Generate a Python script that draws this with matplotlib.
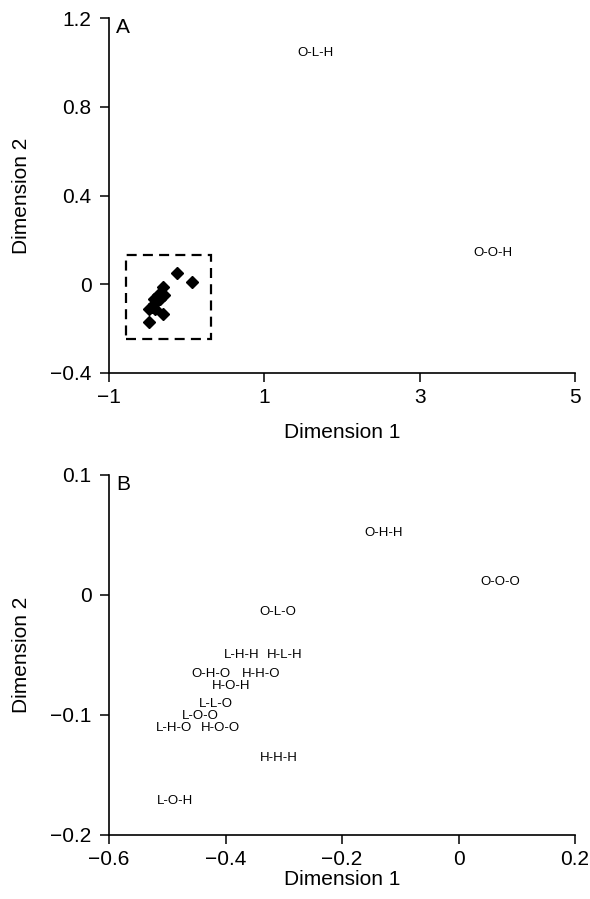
import matplotlib
matplotlib.use("Agg")
import matplotlib.pyplot as plt
from matplotlib.patches import Rectangle

plt.rcParams["font.family"] = ["Liberation Sans", "DejaVu Sans"]

# panel A: the two outlying profiles, shown by name
outer_names = ["O-L-H", "O-O-H"]
outer_dim1 = [1.66, 3.94]
outer_dim2 = [1.04, 0.139]

# panel B: the remaining profiles (also the diamonds in panel A)
names = ["O-H-H", "O-O-O", "O-L-O", "L-H-H", "H-L-H", "O-H-O", "H-H-O",
         "H-O-H", "L-L-O", "L-O-O", "L-H-O", "H-O-O", "H-H-H", "L-O-H"]
dim1 = [-0.128, 0.071, -0.310, -0.372, -0.298, -0.425, -0.339,
        -0.391, -0.416, -0.444, -0.488, -0.409, -0.308, -0.486]
dim2 = [0.052, 0.011, -0.014, -0.050, -0.050, -0.066, -0.066,
        -0.076, -0.091, -0.101, -0.111, -0.111, -0.136, -0.172]

# zoom box drawn in panel A
box_x0, box_x1 = -0.78, 0.31
box_y0, box_y1 = -0.247, 0.130

fig = plt.figure(figsize=(5.9, 8.99), dpi=100)
axA = fig.add_axes([109 / 590, 1 - 373 / 899, 466 / 590, 355 / 899])
axB = fig.add_axes([109 / 590, 1 - 835 / 899, 466 / 590, 360 / 899])


def style(ax):
    for s in ["top", "right"]:
        ax.spines[s].set_visible(False)
    for s in ["left", "bottom"]:
        ax.spines[s].set_linewidth(1.2)
    ax.tick_params(direction="out", length=6.5, width=1.1, labelsize=15, pad=4)
    ax.tick_params(axis="y", pad=6)
    ax.set_ylabel("Dimension 2", fontsize=15, labelpad=14)


# --- A ---
style(axA)
axA.set_xlim(-1, 5)
axA.set_ylim(-0.4, 1.2)
axA.set_xticks([-1, 1, 3, 5])
axA.set_yticks([-0.4, 0, 0.4, 0.8, 1.2])
axA.set_yticklabels(["\u22120.4", "0", "0.4", "0.8", "1.2"])
axA.set_xticklabels(["\u22121", "1", "3", "5"])
axA.plot(dim1, dim2, "D", color="black", ms=6, clip_on=False)
for n, x, y in zip(outer_names, outer_dim1, outer_dim2):
    axA.text(x, y, n, fontsize=9.5, ha="center", va="center")
axA.add_patch(Rectangle((box_x0, box_y0), box_x1 - box_x0, box_y1 - box_y0,
                        fill=False, lw=1.6, ls=(0, (4.5, 2.8)), color="black"))
axA.set_xlabel("Dimension 1", fontsize=15, labelpad=12)
axA.text(0.015, 1.0, "A", transform=axA.transAxes, fontsize=15, va="top")

# --- B ---
style(axB)
axB.set_xlim(-0.6, 0.2)
axB.set_ylim(-0.2, 0.1)
axB.set_xticks([-0.6, -0.4, -0.2, 0, 0.2])
axB.set_xticklabels(["\u22120.6", "\u22120.4", "\u22120.2", "0", "0.2"])
axB.set_yticks([-0.2, -0.1, 0, 0.1])
axB.set_yticklabels(["\u22120.2", "\u22120.1", "0", "0.1"])
for n, x, y in zip(names, dim1, dim2):
    axB.text(x, y, n, fontsize=9.5, ha="center", va="center")
axB.set_xlabel("Dimension 1", fontsize=15, labelpad=1)
axB.text(0.015, 1.0, "B", transform=axB.transAxes, fontsize=15, va="top")

fig.savefig("out.png", dpi=100)
